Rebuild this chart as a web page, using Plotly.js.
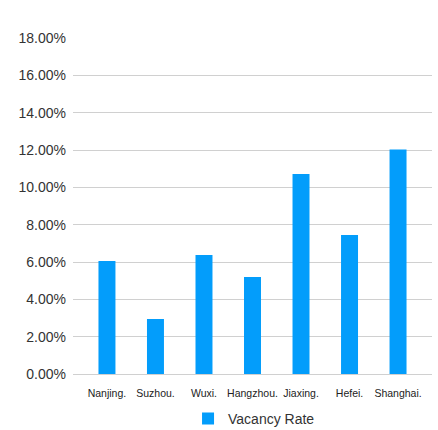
<!DOCTYPE html>
<html>
<head>
<meta charset="utf-8">
<script src="https://cdn.plot.ly/plotly-3.0.1.min.js"></script>
<style>html,body{margin:0;padding:0;background:#fff;}#chart{width:438px;height:430px;}</style>
</head>
<body>
<div id="chart"></div>
<script>
const cities = ["Nanjing.", "Suzhou.", "Wuxi.", "Hangzhou.", "Jiaxing.", "Hefei.", "Shanghai."];
const vacancyRate = [0.0605, 0.0295, 0.0638, 0.052, 0.1072, 0.0745, 0.1203];
const seriesName = "Vacancy Rate";
const tickValues = [0, 0.02, 0.04, 0.06, 0.08, 0.10, 0.12, 0.14, 0.16, 0.18];

const trace = {
  type: "bar",
  x: cities,
  y: vacancyRate,
  name: seriesName,
  marker: {color: "#039dfb"},
  hoverinfo: "x+y"
};

const layout = {
  width: 438,
  height: 430,
  margin: {l: 73, r: 6, t: 38, b: 56},
  paper_bgcolor: "#ffffff",
  plot_bgcolor: "#ffffff",
  font: {family: "Liberation Sans, Arial, sans-serif", color: "#333333"},
  bargap: 0.65,
  showlegend: true,
  legend: {
    orientation: "h",
    xref: "container",
    yref: "container",
    x: 0.58, xanchor: "center",
    y: 0.026, yanchor: "middle",
    font: {size: 14, color: "#333333"}
  },
  xaxis: {
    type: "category",
    range: [-0.7, 6.7],
    showgrid: false,
    showline: true,
    linecolor: "#d0d0d0",
    linewidth: 1,
    ticks: "",
    tickfont: {size: 10.5, color: "#222222"},
    ticklabelstandoff: 9,
    fixedrange: true
  },
  yaxis: {
    range: [0, 0.18],
    tickvals: tickValues,
    tickformat: ".2%",
    showgrid: true,
    gridcolor: "#d0d0d0",
    gridwidth: 1,
    zeroline: false,
    showline: false,
    ticks: "",
    tickfont: {size: 14, color: "#333333"},
    ticklabelstandoff: 6,
    fixedrange: true
  }
};

Plotly.newPlot("chart", [trace], layout, {displayModeBar: false, staticPlot: true});
</script>
</body>
</html>
